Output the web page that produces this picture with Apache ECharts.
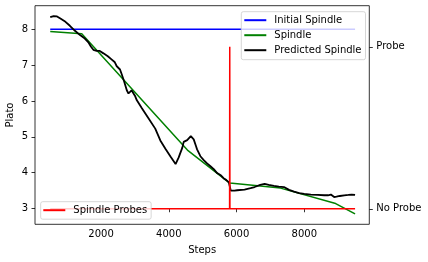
<!DOCTYPE html>
<html>
<head>
<meta charset="utf-8">
<script src="https://cdn.jsdelivr.net/npm/echarts@6/dist/echarts.min.js"></script>
<style>html,body{margin:0;padding:0;background:#fff;}#c{width:428px;height:262px;}</style>
</head>
<body>
<div id="c"></div>
<script>
// ---- data ----
const initialSteps = [500, 9500];
const initialPlato = [8, 8];

const spindleSteps = [500, 1430, 4550, 5800, 7300, 8900, 9500];
const spindlePlato = [7.94, 7.88, 4.63, 3.71, 3.57, 3.15, 2.85];

const predictedSteps = [500, 600, 700, 800, 950, 1080, 1230, 1380, 1500, 1625, 1700, 1773, 1870, 1950, 2070, 2200, 2300, 2400, 2464, 2560, 2613, 2680, 2760, 2810, 2850, 2900, 2957, 3000, 3057, 3206, 3400, 3600, 3750, 3900, 4050, 4200, 4290, 4400, 4440, 4490, 4543, 4600, 4650, 4700, 4736, 4800, 4835, 4933, 5032, 5130, 5230, 5328, 5427, 5546, 5624, 5694, 5773, 5800, 5830, 5941, 6020, 6237, 6415, 6533, 6700, 6830, 6950, 7105, 7250, 7401, 7550, 7700, 7850, 8000, 8193, 8400, 8588, 8700, 8785, 8830, 8883, 8950, 9050, 9180, 9300, 9400, 9500];
const predictedPlato = [8.34, 8.37, 8.36, 8.30, 8.21, 8.10, 7.96, 7.84, 7.76, 7.64, 7.52, 7.43, 7.40, 7.40, 7.33, 7.25, 7.17, 7.09, 6.97, 6.88, 6.74, 6.55, 6.30, 6.21, 6.22, 6.30, 6.28, 6.15, 6.02, 5.80, 5.52, 5.23, 4.90, 4.67, 4.45, 4.24, 4.42, 4.70, 4.86, 4.84, 4.91, 4.92, 5.02, 4.98, 4.93, 4.75, 4.65, 4.46, 4.35, 4.26, 4.18, 4.10, 3.99, 3.92, 3.84, 3.80, 3.73, 3.62, 3.50, 3.50, 3.51, 3.53, 3.57, 3.60, 3.66, 3.69, 3.66, 3.63, 3.61, 3.60, 3.52, 3.47, 3.43, 3.41, 3.39, 3.38, 3.37, 3.37, 3.39, 3.36, 3.32, 3.33, 3.35, 3.37, 3.38, 3.39, 3.38];

const probeSteps = [500, 5795, 5800, 5805, 9500];
const probeValues = [0, 0, 1, 0, 0];

const xTicks = [2000, 4000, 6000, 8000];
const yTicks = [3, 4, 5, 6, 7, 8];
const probeTicks = [0, 1];
const probeTickLabels = ['No Probe', 'Probe'];

const zip = (a, b) => a.map((v, i) => [v, b[i]]);

const font = 'DejaVu Sans';
const chart = echarts.init(document.getElementById('c'), null, {renderer: 'canvas'});
chart.setOption({
  animation: false,
  textStyle: {fontFamily: font},
  grid: {left: 35, right: 58.7, top: 5.7, bottom: 37.7, show: true, borderColor: '#000', borderWidth: 0.8,
         containLabel: false, outerBoundsMode: 'none'},
  xAxis: {
    type: 'value', min: 50, max: 9920,
    name: 'Steps', nameLocation: 'middle', nameGap: 21, nameMoveOverlap: false,
    nameTextStyle: {fontFamily: font, fontSize: 10, color: '#000'},
    axisLine: {show: false},
    axisTick: {show: true, inside: false, length: 3.5, lineStyle: {color: '#000', width: 0.8}, customValues: xTicks},
    axisLabel: {fontFamily: font, fontSize: 10, color: '#000', margin: 5, customValues: xTicks, formatter: v => String(v)},
    splitLine: {show: false}
  },
  yAxis: [{
    type: 'value', min: 2.56, max: 8.66,
    name: 'Plato', nameLocation: 'middle', nameGap: 20, nameRotate: 90, nameMoveOverlap: false,
    nameTextStyle: {fontFamily: font, fontSize: 10, color: '#000'},
    axisLine: {show: false},
    axisTick: {show: true, inside: false, length: 3.5, lineStyle: {color: '#000', width: 0.8}, customValues: yTicks},
    axisLabel: {fontFamily: font, fontSize: 10, color: '#000', margin: 7, customValues: yTicks, formatter: v => String(v)},
    splitLine: {show: false}
  }, {
    type: 'value', position: 'right', min: -0.096, max: 1.254,
    axisLine: {show: false},
    axisTick: {show: true, inside: false, length: 3.5, lineStyle: {color: '#000', width: 0.8}, customValues: probeTicks},
    axisLabel: {fontFamily: font, fontSize: 10, color: '#000', margin: 7, customValues: probeTicks,
      formatter: v => probeTickLabels[probeTicks.indexOf(Math.round(v))] || ''},
    splitLine: {show: false}
  }],
  legend: [{
    data: ['Initial Spindle', 'Spindle', 'Predicted Spindle'],
    orient: 'vertical', left: 241.3, top: 11.7, z: 10,
    padding: [2.5, 4, 3.5, 3],
    itemGap: 3, itemWidth: 22, itemHeight: 2, icon: 'rect',
    backgroundColor: 'rgba(255,255,255,0.8)', borderColor: '#cccccc', borderWidth: 0.8, borderRadius: 2,
    textStyle: {fontFamily: font, fontSize: 10, color: '#000', lineHeight: 12, padding: [0, 0, 0, 3]}
  }, {
    data: ['Spindle Probes'],
    orient: 'vertical', left: 40.7, top: 201.7, z: 10,
    padding: [2.5, 4, 3, 2.6],
    itemWidth: 22, itemHeight: 2, icon: 'rect',
    backgroundColor: 'rgba(255,255,255,0.8)', borderColor: '#cccccc', borderWidth: 0.8, borderRadius: 2,
    textStyle: {fontFamily: font, fontSize: 10, color: '#000', lineHeight: 12, padding: [0, 0, 0, 3]}
  }],
  series: [
    {name: 'Initial Spindle', type: 'line', data: zip(initialSteps, initialPlato), showSymbol: false, symbol: 'none',
     lineStyle: {color: '#0000ff', width: 1.5}, itemStyle: {color: '#0000ff'}},
    {name: 'Spindle', type: 'line', data: zip(spindleSteps, spindlePlato), showSymbol: false, symbol: 'none',
     lineStyle: {color: '#008000', width: 1.5}, itemStyle: {color: '#008000'}},
    {name: 'Predicted Spindle', type: 'line', data: zip(predictedSteps, predictedPlato), showSymbol: false, symbol: 'none',
     lineStyle: {color: '#000000', width: 1.8}, itemStyle: {color: '#000000'}},
    {name: 'Spindle Probes', type: 'line', yAxisIndex: 1, data: zip(probeSteps, probeValues), showSymbol: false, symbol: 'none',
     lineStyle: {color: '#ff0000', width: 1.5}, itemStyle: {color: '#ff0000'}}
  ]
});
</script>
</body>
</html>
